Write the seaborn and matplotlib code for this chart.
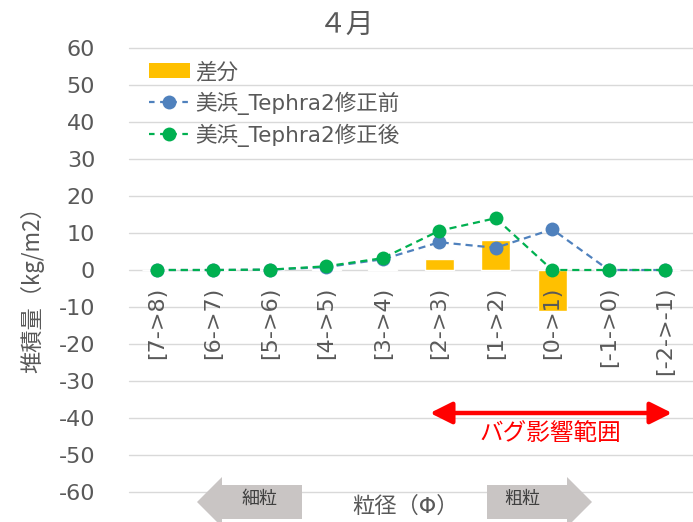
import matplotlib
matplotlib.use("Agg")
import matplotlib.pyplot as plt
from matplotlib.lines import Line2D
from matplotlib.patches import Patch, Polygon
import seaborn as sns
import pandas as pd

# Grain-size classes (phi) and deposit loads, April
categories = ["[7->8)", "[6->7)", "[5->6)", "[4->5)", "[3->4)",
              "[2->3)", "[1->2)", "[0->1)", "[-1->0)", "[-2->-1)"]
before_fix = [0.0, 0.0, 0.1, 0.8, 2.9, 7.5, 6.0, 11.0, 0.0, 0.0]
after_fix = [0.0, 0.0, 0.1, 1.0, 3.2, 10.6, 14.0, 0.0, 0.0, 0.0]
difference = [0.0, 0.0, 0.0, 0.2, 0.3, 3.1, 8.0, -11.0, 0.0, 0.0]
y_ticks = list(range(-60, 61, 10))

series_labels = ["差分", "美浜_Tephra2修正前", "美浜_Tephra2修正後"]
title_text = "４月"
y_label = "堆積量（kg/m2）"
x_label = "粒径（Φ）"
bug_label = "バグ影響範囲"
fine_label = "細粒"
coarse_label = "粗粒"

BAR_COLOR = "#FFC000"
BLUE = "#4F81BD"
GREEN = "#00B050"
TEXT = "#595959"
GRID = "#D9D9D9"

sns.set_theme(style="white")
plt.rcParams["font.family"] = ["DejaVu Sans", "Noto Sans CJK JP"]
CJK = ["Noto Sans CJK JP", "DejaVu Sans"]

W, H = 693, 522
fig = plt.figure(figsize=(W / 100, H / 100), dpi=100)


def fx(px):
    return px / W


def fy(py):
    return 1 - py / H


ax = fig.add_axes([fx(128.5), fy(492), fx(565), 444 / H])

df = pd.DataFrame({"cat": categories, "diff": difference,
                   "before": before_fix, "after": after_fix})

sns.barplot(data=df, x="cat", y="diff", color=BAR_COLOR, saturation=1,
            width=0.52, ax=ax, zorder=2)
dash = (0, (3.2, 2.2))
sns.lineplot(data=df, x="cat", y="before", color=BLUE, linestyle=dash,
             linewidth=1.6, marker="o", markersize=10, markeredgewidth=0,
             sort=False, ax=ax, zorder=3)
sns.lineplot(data=df, x="cat", y="after", color=GREEN, linestyle=dash,
             linewidth=1.6, marker="o", markersize=10, markeredgewidth=0,
             sort=False, ax=ax, zorder=4)

ax.set_xlim(-0.5, len(categories) - 0.5)
ax.set_ylim(-60, 60)
ax.set_yticks(y_ticks)
ax.set_yticklabels([str(v) for v in y_ticks])
ax.grid(axis="y", color=GRID, linewidth=1.0)
for gl in ax.get_ygridlines():
    gl.set_clip_on(False)
ax.set_axisbelow(True)
ax.xaxis.set_zorder(5)
for s in ax.spines.values():
    s.set_visible(False)
ax.spines["bottom"].set_position(("data", 0))
ax.tick_params(axis="y", length=0, pad=24, labelsize=16, labelcolor=TEXT)
ax.tick_params(axis="x", length=0, pad=12, labelsize=16, labelcolor=TEXT,
               labelrotation=90)
ax.set_xlabel("")
ax.set_ylabel("")

# Legend
handles = [
    Patch(facecolor=BAR_COLOR, edgecolor="none"),
    Line2D([], [], color=BLUE, linestyle=(0, (2.5, 2.5)), linewidth=1.6,
           marker="o", markersize=10, markeredgewidth=0),
    Line2D([], [], color=GREEN, linestyle=(0, (2.5, 2.5)), linewidth=1.6,
           marker="o", markersize=10, markeredgewidth=0),
]
leg = ax.legend(handles, series_labels, loc="upper left",
                bbox_to_anchor=(fx(140), fy(53)), bbox_transform=fig.transFigure,
                frameon=False, fontsize=15.5, labelcolor=TEXT,
                handlelength=1.9, handletextpad=0.25, labelspacing=0.42,
                borderaxespad=0)

# Titles
fig.text(0.5, fy(25), title_text, ha="center", va="center",
         fontsize=20, color=TEXT, family=CJK)
fig.text(fx(32), fy(284), y_label, rotation=90, ha="center", va="center",
         fontsize=16, color=TEXT, family=CJK)

# Range affected by the bug
ax.annotate("", xy=(fx(672), fy(413)), xytext=(fx(430), fy(413)),
            xycoords="figure fraction", textcoords="figure fraction",
            arrowprops=dict(arrowstyle="<|-|>,head_length=1.1,head_width=0.55",
                            color="#FF0000", linewidth=3.2,
                            shrinkA=0, shrinkB=0))
fig.text(fx(550), fy(434), bug_label, ha="center", va="center",
         fontsize=17, color="#FF0000", family=CJK)

# Fine / coarse direction arrows
ARROW_GRAY = "#C9C5C4"
cy, bh, hh = 502, 17, 25
left_pts = [(197, cy), (222, cy - hh), (222, cy - bh), (302, cy - bh),
            (302, cy + bh), (222, cy + bh), (222, cy + hh)]
right_pts = [(592, cy), (567, cy - hh), (567, cy - bh), (487, cy - bh),
             (487, cy + bh), (567, cy + bh), (567, cy + hh)]
for pts in (left_pts, right_pts):
    fig.patches.append(Polygon([(fx(x), fy(y)) for x, y in pts], closed=True,
                               facecolor=ARROW_GRAY, edgecolor="none",
                               transform=fig.transFigure, zorder=5))
fig.text(fx(259), fy(499), fine_label, ha="center", va="center",
         fontsize=13, color="#404040", zorder=6, family=CJK)
fig.text(fx(522), fy(499), coarse_label, ha="center", va="center",
         fontsize=13, color="#404040", zorder=6, family=CJK)
fig.text(fx(406), fy(506), x_label, ha="center", va="center",
         fontsize=16, color=TEXT, zorder=6)

fig.savefig("out.png", dpi=100)
